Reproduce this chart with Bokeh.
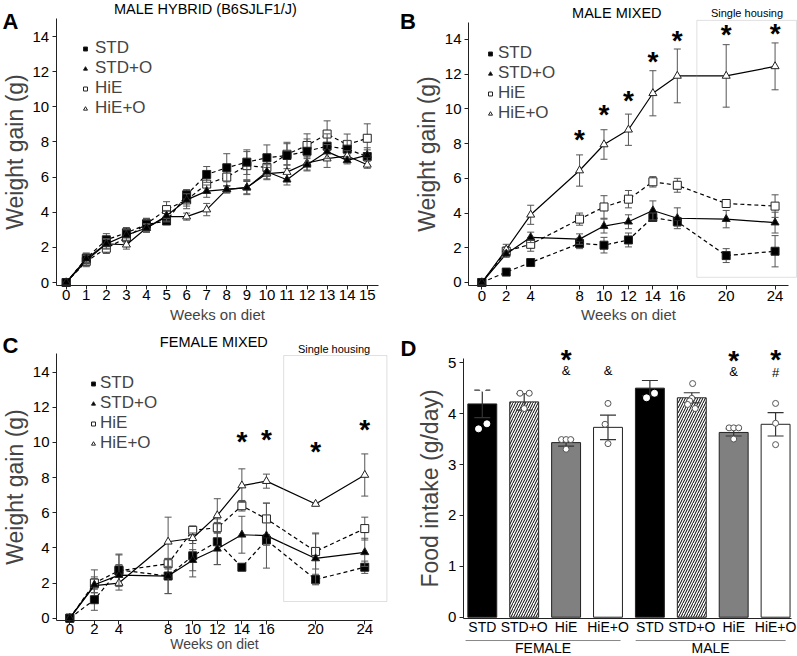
from bokeh.plotting import figure
from bokeh.models import Range1d, Legend, LegendItem, Label, BoxAnnotation, Arrow, FixedTicker
from bokeh.layouts import column, row
from bokeh.embed import file_html
from bokeh.resources import INLINE

FONT = "Liberation Sans"

# ---------------- Panel A : male hybrid ----------------
weeks_a = list(range(16))
a_std = [0, 1.38, 2.43, 2.83, 3.30, 3.50, 4.99, 6.15, 6.53, 6.85, 7.10, 7.23, 7.47, 7.76, 7.59, 7.17]
a_std_err = [0, 0.3, 0.35, 0.3, 0.35, 0.2, 0.3, 0.45, 0.8, 0.7, 0.73, 0.75, 0.7, 0.7, 0.5, 0.5]
a_stdo = [0, 1.35, 2.2, 2.7, 3.1, 3.8, 4.7, 5.2, 5.3, 5.4, 6.3, 5.85, 6.7, 7.45, 6.95, 7.25]
a_stdo_err = [0, 0.3, 0.3, 0.3, 0.25, 0.3, 0.35, 0.35, 0.2, 0.4, 0.4, 0.3, 0.35, 0.4, 0.2, 0.3]
a_hie = [0, 1.2, 1.95, 2.55, 3.35, 4.15, 4.7, 5.6, 6.0, 6.65, 6.55, 7.3, 7.8, 8.45, 7.85, 8.21]
a_hie_err = [0, 0.3, 0.3, 0.3, 0.3, 0.45, 0.5, 0.45, 0.5, 0.8, 0.5, 0.6, 0.66, 0.75, 0.6, 0.82]
a_hieo = [0, 1.25, 2.2, 2.15, 3.1, 3.75, 3.75, 4.15, 5.3, 5.4, 6.2, 6.28, 6.8, 7.05, 7.2, 6.7]
a_hieo_err = [0, 0.3, 0.25, 0.25, 0.2, 0.3, 0.2, 0.35, 0.2, 0.35, 0.35, 0.4, 0.4, 0.5, 0.3, 0.2]

# ---------------- Panel B : male mixed ----------------
weeks_bc = [0, 2, 4, 8, 10, 12, 14, 16, 20, 24]
b_std = [0, 0.6, 1.15, 2.25, 2.15, 2.45, 3.75, 3.5, 1.55, 1.8]
b_std_err = [0, 0.1, 0.1, 0.3, 0.45, 0.4, 0.2, 0.25, 0.4, 0.9]
b_stdo = [0, 1.65, 2.6, 2.5, 3.25, 3.5, 4.15, 3.7, 3.65, 3.45]
b_stdo_err = [0, 0.2, 0.3, 0.3, 0.4, 0.4, 0.55, 0.6, 0.5, 0.6]
b_hie = [0, 1.8, 2.2, 3.65, 4.35, 4.8, 5.8, 5.6, 4.55, 4.4]
b_hie_err = [0, 0.25, 0.4, 0.35, 0.65, 0.5, 0.3, 0.4, 0.1, 0.65]
b_hieo = [0, 1.9, 3.9, 6.45, 7.95, 8.8, 10.9, 11.9, 11.9, 12.45]
b_hieo_err = [0, 0.3, 0.55, 0.9, 0.85, 0.9, 1.3, 1.55, 1.8, 1.35]
b_star_weeks = [8, 10, 12, 14, 16, 20, 24]
b_star_y = [8.47, 9.9, 10.75, 13.0, 14.2, 14.5, 14.6]

# ---------------- Panel C : female mixed ----------------
c_std = [0, 1.05, 2.75, 2.4, 3.55, 4.35, 2.9, 4.45, 2.2, 2.9]
c_std_err = [0, 0.6, 0.9, 1.0, 1.2, 1.3, 0.05, 0.3, 0.3, 0.35]
c_stdo = [0, 1.9, 2.45, 2.4, 3.3, 3.95, 4.75, 4.7, 3.4, 3.75]
c_stdo_err = [0, 0.45, 0.6, 1.0, 0.6, 0.9, 1.05, 1.85, 1.45, 0.8]
c_hie = [0, 2.0, 2.7, 3.1, 5.0, 5.15, 6.4, 5.65, 3.8, 5.1]
c_hie_err = [0, 0.75, 0.9, 0.3, 0.25, 0.3, 0.3, 0.9, 1.0, 0.65]
c_hieo = [0, 1.85, 2.0, 4.35, 4.55, 5.85, 7.55, 7.8, 6.5, 8.15]
c_hieo_err = [0, 0.4, 0.4, 1.4, 0.3, 0.95, 0.95, 0.4, 0.05, 1.2]
c_star_weeks = [14, 16, 20, 24]
c_star_y = [10.3, 10.43, 9.73, 11.0]

# ---------------- Panel D : food intake ----------------
d_labels = ["STD", "STD+O", "HiE", "HiE+O", "STD", "STD+O", "HiE", "HiE+O"]
d_sex = ["FEMALE", "MALE"]
d_mean = [4.19, 4.23, 3.43, 3.73, 4.50, 4.31, 3.63, 3.79]
d_err = [0.27, 0.16, 0.07, 0.24, 0.15, 0.10, 0.07, 0.23]
d_dots = [[4.8, 4.5, 3.8, 3.7], [4.4, 4.4, 4.1], [3.49, 3.49, 3.49, 3.3], [4.2, 3.79, 3.41],
          [4.8, 4.31, 4.4], [4.59, 4.3, 4.25, 4.18, 4.1], [3.72, 3.72, 3.72, 3.5], [4.2, 3.81, 3.39]]
d_star_bars = [2, 6, 7]
d_star_y = [5.14, 5.13, 5.14]
d_mark_bars = [2, 3, 6, 7]
d_mark_text = ["&", "&", "&", "#"]
d_mark_y = [4.85, 4.85, 4.82, 4.80]

# styling (not data)
JITTER = [[0.03, 0.01, 0.11, -0.09], [-0.1, 0.12, 0.0], [-0.11, 0.0, 0.11, 0.0], [0.0, -0.07, 0.0],
          [0.02, -0.08, 0.11], [0.02, 0.0, -0.05, -0.1, 0.08], [-0.11, 0.0, 0.12, 0.0], [0.0, 0.0, 0.0]]
WL, WR, H = 398, 399, 328


def make_fig(w, xr, yr, ax_x, ax_y, x_end, y_end):
    """Frame fills the whole figure; axes are pinned at data positions."""
    p = figure(width=w, height=H, x_range=Range1d(*xr), y_range=Range1d(*yr),
               output_backend="svg", toolbar_location=None,
               min_border_left=0, min_border_right=0, min_border_top=0, min_border_bottom=0)
    p.title.visible = False
    p.outline_line_color = None
    p.grid.visible = False
    xa, ya = p.xaxis[0], p.yaxis[0]
    xa.fixed_location = ax_y
    ya.fixed_location = ax_x
    xa.bounds = (ax_x, x_end)
    ya.bounds = (ax_y, y_end)
    for ax in (xa, ya):
        ax.axis_line_color = "#222222"
        ax.major_tick_line_color = "#222222"
        ax.major_tick_out = 4
        ax.major_tick_in = 0
        ax.minor_tick_line_color = None
        ax.major_label_text_font = FONT
        ax.axis_label_text_font = FONT
        ax.axis_label_text_font_style = "normal"
        ax.major_label_text_color = "black"
        ax.major_label_text_font_size = "15px"
    xa.major_label_standoff = 1
    ya.major_label_standoff = 3
    xa.axis_label_text_font_size = "15px"
    ya.axis_label_text_font_size = "23px"
    xa.axis_label_standoff = 2
    ya.axis_label_standoff = 2
    return p


def text(p, x, y, t, size, bold=False, color="black", align="center", baseline="middle"):
    p.add_layout(Label(x=x, y=y, text=t, text_font=FONT, text_font_size=size,
                       text_font_style="bold" if bold else "normal", text_color=color,
                       text_align=align, text_baseline=baseline))


def star(p, x, y, ppu, size=28):
    text(p, x, y - 0.15 * size / ppu, "*", "%dpx" % size, bold=True)


def series(p, x, y, err, marker, fill, dash):
    p.line(x, y, line_color="black", line_width=1.2, line_dash=dash)
    xs = [a for a, e in zip(x, err) if e > 0]
    lo = [v - e for v, e in zip(y, err) if e > 0]
    hi = [v + e for v, e in zip(y, err) if e > 0]
    p.segment(x0=xs, y0=lo, x1=xs, y1=hi, line_color="#555555", line_width=1)
    p.scatter(xs, hi, marker="dash", size=7, line_color="#555555", line_width=1)
    p.scatter(xs, lo, marker="dash", size=7, line_color="#555555", line_width=1)
    return p.scatter(x, y, marker=marker, size=8, fill_color=fill, line_color="#222222", line_width=1)


def weight_panel(p, x, s1, e1, s2, e2, s3, e3, s4, e4, leg_x, leg_y, standoff):
    r3 = series(p, x, s3, e3, "square", "white", "4 3")
    r1 = series(p, x, s1, e1, "square", "black", "4 3")
    r4 = series(p, x, s4, e4, "triangle", "white", "solid")
    r2 = series(p, x, s2, e2, "triangle", "black", "solid")
    items = [LegendItem(label="STD", renderers=[r1]), LegendItem(label="STD+O", renderers=[r2]),
             LegendItem(label="HiE", renderers=[r3]), LegendItem(label="HiE+O", renderers=[r4])]
    leg = Legend(items=items, location=(leg_x, leg_y), padding=0, margin=0, spacing=0,
                 glyph_width=10, glyph_height=19, label_height=19, label_standoff=standoff,
                 label_text_font=FONT, label_text_font_size="17px",
                 border_line_color=None, background_fill_alpha=0)
    p.add_layout(leg)
    p.yaxis.axis_label = "Weight gain (g)"
    p.xaxis.axis_label = "Weeks on diet"
    p.yaxis.ticker = FixedTicker(ticks=[0, 2, 4, 6, 8, 10, 12, 14])


# ---------- A ----------
yA = (-2.618, 16.05)
pA = make_fig(WL, (-3.274, 16.557), yA, -0.5, -0.17, 15.55, 15.03)
weight_panel(pA, weeks_a, a_std, a_std_err, a_stdo, a_stdo_err, a_hie, a_hie_err, a_hieo, a_hieo_err, 80, 210, 5)
pA.xaxis.ticker = FixedTicker(ticks=weeks_a)
text(pA, 6.94, 15.54, "MALE HYBRID (B6SJLF1/J)", "14.5px")
text(pA, -3.17, 14.855, "A", "22px", bold=True, align="left", baseline="alphabetic")

# ---------- B ----------
yB = (-2.65, 16.244)
pB = make_fig(WR, (-6.817, 25.835), yB, -1.09, -0.2, 25.1, 15.0)
weight_panel(pB, weeks_bc, b_std, b_std_err, b_stdo, b_stdo_err, b_hie, b_hie_err, b_hieo, b_hieo_err, 87, 205, 3)
pB.xaxis.ticker = FixedTicker(ticks=weeks_bc)
ppuB = H / (yB[1] - yB[0])
pB.add_layout(BoxAnnotation(left=17.6, right=25.75, bottom=0.3, top=15.1, fill_alpha=0,
                            line_color="#999999", line_width=1))
text(pB, 21.7, 15.5, "Single housing", "11px")
text(pB, 11.05, 15.54, "MALE MIXED", "14.5px")
text(pB, -6.69, 15.03, "B", "22px", bold=True, align="left", baseline="alphabetic")
for wk, yv in zip(b_star_weeks, b_star_y):
    star(pB, wk, yv, ppuB)

# ---------- C ----------
yC = (-2.18, 16.488)
pC = make_fig(WL, (-5.639, 26.745), yC, -1.08, -0.13, 24.6, 15.05)
weight_panel(pC, weeks_bc, c_std, c_std_err, c_stdo, c_stdo_err, c_hie, c_hie_err, c_hieo, c_hieo_err, 88, 203, 2)
pC.xaxis.ticker = FixedTicker(ticks=weeks_bc)
pC.xaxis.major_label_standoff = 0
pC.xaxis.axis_label_standoff = -2
pC.xaxis.axis_label_text_font_size = "14px"
ppuC = H / (yC[1] - yC[0])
pC.add_layout(BoxAnnotation(left=17.4, right=25.8, bottom=0.95, top=14.95, fill_alpha=0,
                            line_color="#999999", line_width=1))
text(pC, 21.5, 15.3, "Single housing", "11px")
text(pC, 11.72, 15.71, "FEMALE MIXED", "14.5px")
text(pC, -5.48, 15.52, "C", "22px", bold=True, align="left", baseline="alphabetic")
for wk, yv in zip(c_star_weeks, c_star_y):
    star(pC, wk, yv, ppuC)

# ---------- D ----------
yD = (-0.772, 5.672)
pD = make_fig(WR, (-2.0, 7.523), yD, -0.45, -0.03, 7.38, 5.08)
ppuD = H / (yD[1] - yD[0])
xs = list(range(len(d_mean)))
fills = ["black", "white", "#808080", "white"] * 2
hatch = ["", "/", "", ""] * 2
for i in xs:
    pD.vbar(x=[i], top=[d_mean[i]], bottom=0, width=0.69, fill_color=fills[i], line_color="#222222",
            line_width=1, hatch_pattern=hatch[i] if hatch[i] else None, hatch_color="black",
            hatch_scale=5, hatch_weight=1)
lo = [m - e for m, e in zip(d_mean, d_err)]
hi = [m + e for m, e in zip(d_mean, d_err)]
pD.segment(x0=xs, y0=lo, x1=xs, y1=hi, line_color="#333333", line_width=1.2)
pD.scatter(xs, hi, marker="dash", size=16, line_color="#333333", line_width=1.2)
pD.scatter(xs, lo, marker="dash", size=16, line_color="#333333", line_width=1.2)
dx, dy, dline = [], [], []
for i, vals in enumerate(d_dots):
    for v, j in zip(vals, JITTER[i]):
        dx.append(i + j)
        dy.append(v)
        dline.append("white" if fills[i] == "black" else "#555555")
pD.scatter(dx, dy, marker="circle", size=6, fill_color="white", line_color=dline, line_width=1)
pD.yaxis.axis_label = "Food intake (g/day)"
pD.yaxis.ticker = FixedTicker(ticks=[0, 1, 2, 3, 4, 5])
pD.xaxis.ticker = FixedTicker(ticks=xs)
pD.xaxis.major_label_overrides = {i: lab for i, lab in enumerate(d_labels)}
pD.xaxis.major_label_text_font_size = "14px"
pD.xaxis.major_tick_out = 0
pD.xaxis.major_label_standoff = 0
for b, yv in zip(d_star_bars, d_star_y):
    star(pD, b, yv, ppuD)
for b, t, yv in zip(d_mark_bars, d_mark_text, d_mark_y):
    text(pD, b, yv, t, "13px")
text(pD, -1.95, 5.273, "D", "22px", bold=True, align="left", baseline="alphabetic")
for (x0, x1), lab in zip([(-0.4, 3.3), (3.66, 7.24)], d_sex):
    pD.add_layout(Arrow(x_start=x0, y_start=-0.458, x_end=x1, y_end=-0.458, start=None, end=None,
                        line_color="#888888", line_width=1))
    text(pD, (x0 + x1) / 2, -0.6, lab, "14px")

layout = column(row(pA, pB), row(pC, pD))
open("out.html", "w").write(file_html(layout, INLINE))
